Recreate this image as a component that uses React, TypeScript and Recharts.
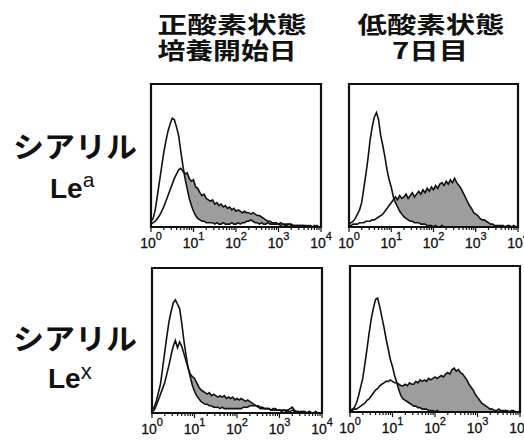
import React from "react";
import { ComposedChart, Area, Line, XAxis, YAxis, ReferenceArea } from "recharts";

// histogram channels: 81 bins over 4 decades (10^0 .. 10^4), 20 bins per decade
// values are % of panel height

// 正酸素状態 / シアリルLea
const ctrlA = [
  4, 6, 12, 22, 32, 42, 52, 60, 67, 72,
  76, 75, 70, 64, 53, 43, 34, 27, 20, 15,
  11, 8, 6, 5, 4, 4, 3, 3, 3, 3,
  2, 3, 2, 2, 3, 2, 2, 2, 3, 2,
  2, 3, 2, 3, 3, 4, 4, 5, 4, 3,
  3, 2, 3, 2, 2, 3, 2, 2, 2, 2,
  2, 1, 2, 1, 1, 2, 1, 1, 1, 1,
  1, 1, 1, 1, 0, 1, 0, 0, 1, 0,
  0,
];
const sampleA = [
  2, 3, 4, 6, 8, 11, 14, 18, 22, 26,
  30, 34, 37, 40, 41, 39, 37, 38, 34, 32,
  33, 28, 27, 24, 22, 23, 20, 19, 18, 19,
  16, 17, 15, 16, 14, 15, 13, 14, 12, 13,
  11, 12, 11, 10, 11, 10, 10, 9, 10, 9,
  8, 8, 7, 6, 5, 4, 4, 3, 3, 3,
  2, 3, 2, 2, 2, 2, 2, 1, 1, 1,
  1, 1, 1, 0, 1, 0, 0, 1, 0, 0,
  0,
];

// 低酸素状態7日目 / シアリルLea
const ctrlB = [
  2, 3, 4, 6, 9, 12, 17, 27, 37, 48,
  61, 70, 77, 80, 75, 64, 57, 49, 40, 33,
  28, 21, 17, 14, 11, 9, 7, 6, 5, 4,
  4, 3, 3, 3, 2, 2, 2, 1, 1, 1,
  0, 1, 0, 0, 1, 0, 0, 0, 0, 0,
  0, 0, 0, 0, 0, 0, 0, 0, 0, 0,
  0, 0, 0, 0, 0, 0, 0, 0, 0, 0,
  0, 0, 0, 0, 0, 0, 0, 0, 0, 0,
  0,
];
const sampleB = [
  1, 1, 2, 2, 2, 3, 3, 3, 4, 4,
  4, 5, 5, 6, 7, 8, 9, 11, 13, 15,
  17, 19, 21, 19, 22, 20, 21, 23, 20, 22,
  24, 21, 23, 25, 23, 26, 24, 27, 25, 28,
  26, 29, 27, 30, 31, 29, 32, 30, 33, 31,
  34, 31, 29, 27, 24, 21, 18, 15, 13, 10,
  9, 8, 6, 5, 5, 4, 3, 2, 2, 1,
  1, 1, 1, 1, 0, 1, 1, 0, 1, 0,
  0,
];

// 正酸素状態 / シアリルLex
const ctrlC = [
  2, 4, 8, 14, 20, 31, 42, 53, 63, 70,
  76, 78, 75, 72, 62, 50, 40, 31, 25, 19,
  15, 12, 10, 8, 7, 6, 6, 5, 5, 4,
  4, 4, 3, 4, 3, 3, 3, 3, 3, 3,
  3, 3, 3, 4, 4, 4, 5, 5, 5, 5,
  4, 3, 3, 3, 3, 3, 2, 3, 3, 2,
  2, 2, 2, 2, 2, 3, 4, 2, 1, 1,
  1, 1, 1, 0, 1, 0, 0, 1, 0, 0,
  0,
];
const sampleC = [
  1, 2, 5, 9, 13, 17, 21, 27, 33, 40,
  46, 50, 45, 49, 46, 41, 36, 31, 27, 25,
  24, 21, 18, 16, 15, 14, 13, 14, 12, 13,
  12, 11, 12, 11, 12, 10, 11, 10, 11, 9,
  10, 9, 10, 9, 8, 9, 8, 7, 6, 5,
  5, 4, 4, 3, 3, 3, 2, 2, 2, 2,
  2, 1, 2, 1, 1, 1, 2, 1, 1, 1,
  0, 1, 0, 0, 1, 0, 0, 0, 0, 0,
  0,
];

// 低酸素状態7日目 / シアリルLex
const ctrlD = [
  1, 2, 3, 6, 11, 17, 23, 33, 43, 54,
  64, 71, 77, 78, 72, 65, 58, 50, 43, 36,
  31, 25, 20, 15, 11, 9, 8, 7, 6, 5,
  4, 4, 3, 3, 2, 2, 2, 1, 1, 1,
  0, 1, 0, 0, 0, 0, 0, 0, 0, 0,
  0, 0, 0, 0, 0, 0, 0, 0, 0, 0,
  0, 0, 0, 0, 0, 0, 0, 0, 0, 0,
  0, 0, 0, 0, 0, 0, 0, 0, 0, 0,
  0,
];
const sampleD = [
  1, 1, 2, 2, 3, 4, 5, 6, 8, 9,
  11, 13, 15, 16, 18, 19, 20, 21, 21, 22,
  21, 20, 20, 19, 18, 18, 19, 18, 20, 19,
  19, 21, 20, 22, 21, 22, 21, 23, 22, 23,
  24, 23, 24, 25, 24, 26, 27, 26, 29, 30,
  28, 29, 27, 26, 24, 22, 19, 17, 15, 12,
  10, 8, 6, 5, 4, 3, 2, 2, 1, 1,
  2, 1, 1, 1, 1, 0, 1, 1, 0, 0,
  0,
];

const decadeExponents = ["0", "1", "2", "3", "4"];
const colTitles = [
  ["正酸素状態", "培養開始日"],
  ["低酸素状態", "7日目"],
];
const rowLabels = ["a", "x"];

const BINS_PER_DECADE = 20;
const majorTicks = decadeExponents.map((_, d) => d * BINS_PER_DECADE);
const minorTicks: number[] = [];
for (let d = 0; d < 4; d++) {
  for (let k = 2; k <= 9; k++) minorTicks.push((d + Math.log10(k)) * BINS_PER_DECADE);
}
const xTicks = [...majorTicks, ...minorTicks].sort((a, b) => a - b);
const yTicks: number[] = [];
for (let v = 0; v <= 100; v += 4) yTicks.push(v);

const toRows = (ctrl: number[], sample: number[]) =>
  ctrl.map((c, i) => ({ ch: i, ctrl: c, sample: sample[i] }));

const INK = "#111111";
const GRAY = "#9d9d9d";
const latin = "'Liberation Sans', Arial, sans-serif";
const cjk = "'Noto Sans CJK JP', 'Noto Sans CJK SC', sans-serif";

const XTick = (props: any) => {
  const { x, y, payload } = props;
  const v = payload.value;
  const idx = majorTicks.indexOf(v);
  const major = idx >= 0;
  return (
    <g>
      <line x1={x} x2={x} y1={y} y2={y + (major ? 5 : 3)} stroke={INK} strokeWidth={1.2} />
      {major && (
        <text
          x={x}
          y={y + 21}
          textAnchor="middle"
          fill={INK}
          stroke={INK}
          strokeWidth={0.3}
          style={{ fontFamily: latin, fontSize: 14 }}
        >
          <tspan>10</tspan>
          <tspan dy={-8} style={{ fontSize: 11 }}>
            {decadeExponents[idx]}
          </tspan>
        </text>
      )}
    </g>
  );
};

const YTick = (props: any) => {
  const { x, y } = props;
  return <line x1={x - 4} x2={x} y1={y} y2={y} stroke={INK} strokeWidth={1.2} />;
};

interface PanelProps {
  ctrl: number[];
  sample: number[];
  left: number;
  top: number;
  w: number;
  h: number;
}

const ML = 14;
const MR = 14;
const MT = 2;
const XH = 30;

function Histogram({ ctrl, sample, left, top, w, h }: PanelProps) {
  const data = toRows(ctrl, sample);
  return (
    <div style={{ position: "absolute", left: left - ML, top: top - MT }}>
      <ComposedChart
        width={w + ML + MR}
        height={h + MT + XH}
        data={data}
        margin={{ top: MT, right: MR, bottom: 0, left: ML }}
      >
        <XAxis
          dataKey="ch"
          type="number"
          domain={[0, 80]}
          ticks={xTicks}
          interval={0}
          height={XH}
          tickSize={0}
          tickMargin={0}
          tickLine={false}
          axisLine={false}
          tick={<XTick />}
        />
        <YAxis
          type="number"
          domain={[0, 100]}
          ticks={yTicks}
          interval={0}
          width={0}
          tickSize={0}
          tickMargin={0}
          tickLine={false}
          axisLine={false}
          tick={<YTick />}
        />
        <Area
          type="linear"
          dataKey="sample"
          fill={GRAY}
          fillOpacity={1}
          stroke="none"
          isAnimationActive={false}
        />
        <Area
          type="linear"
          dataKey="ctrl"
          fill="#ffffff"
          fillOpacity={1}
          stroke={INK}
          strokeWidth={1.6}
          isAnimationActive={false}
        />
        <Line
          type="linear"
          dataKey="sample"
          stroke={INK}
          strokeWidth={1.6}
          dot={false}
          activeDot={false}
          isAnimationActive={false}
        />
        <ReferenceArea x1={0} x2={80} y1={0} y2={100} fill="none" fillOpacity={0} stroke={INK} strokeWidth={2.2} strokeOpacity={1} />
      </ComposedChart>
    </div>
  );
}

export default function App() {
  return (
    <div
      style={{
        position: "absolute",
        left: 0,
        top: 0,
        width: 524,
        height: 440,
        overflow: "hidden",
        background: "#fff",
      }}
    >
      <svg width={524} height={440} style={{ position: "absolute", left: 0, top: 0 }}>
        <g fontFamily={cjk} fontWeight={700} fontSize={23} fill={INK}>
          <text x={232} y={33} textAnchor="middle" textLength={149} lengthAdjust="spacingAndGlyphs">
            {colTitles[0][0]}
          </text>
          <text x={227} y={59} textAnchor="middle" textLength={139} lengthAdjust="spacingAndGlyphs">
            {colTitles[0][1]}
          </text>
          <text x={431} y={33} textAnchor="middle" textLength={147} lengthAdjust="spacingAndGlyphs">
            {colTitles[1][0]}
          </text>
          <text x={430} y={59} textAnchor="middle" textLength={76} lengthAdjust="spacingAndGlyphs">
            {colTitles[1][1]}
          </text>
        </g>
        <g fill={INK}>
          <text x={75} y={158} textAnchor="middle" fontFamily={cjk} fontWeight={700} fontSize={29} textLength={124} lengthAdjust="spacingAndGlyphs">
            シアリル
          </text>
          <text x={50} y={198} fontFamily={latin} fontWeight={700} fontSize={28}>
            Le
            <tspan dy={-11} fontSize={21} fontWeight={400}>
              {rowLabels[0]}
            </tspan>
          </text>
          <text x={75} y={350} textAnchor="middle" fontFamily={cjk} fontWeight={700} fontSize={29} textLength={124} lengthAdjust="spacingAndGlyphs">
            シアリル
          </text>
          <text x={48} y={388} fontFamily={latin} fontWeight={700} fontSize={28}>
            Le
            <tspan dy={-9} fontSize={22} fontWeight={400}>
              {rowLabels[1]}
            </tspan>
          </text>
        </g>
      </svg>
      <Histogram ctrl={ctrlA} sample={sampleA} left={151} top={84} w={170} h={143} />
      <Histogram ctrl={ctrlB} sample={sampleB} left={349} top={84} w={169} h={143} />
      <Histogram ctrl={ctrlC} sample={sampleC} left={152} top={268} w={170} h={145} />
      <Histogram ctrl={ctrlD} sample={sampleD} left={350} top={266} w={170} h={146} />
    </div>
  );
}
